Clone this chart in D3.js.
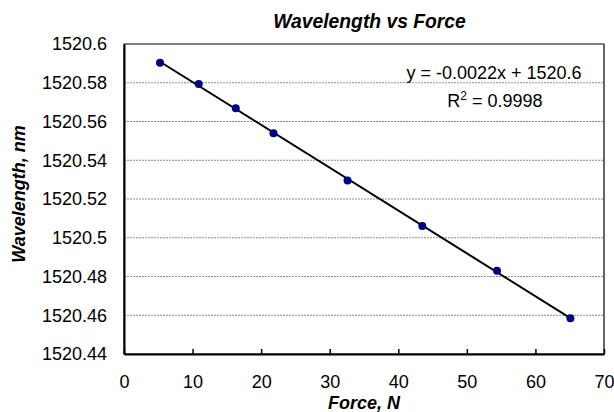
<!DOCTYPE html>
<html>
<head>
<meta charset="utf-8">
<script src="https://cdn.jsdelivr.net/npm/d3@7"></script>
<style>
  body { margin: 0; background: #fff; }
  text { font-family: 'Liberation Sans', Arial, sans-serif; fill: #000; }
</style>
</head>
<body>
<script>
// data
const force = [5.25, 10.9, 16.3, 21.8, 32.6, 43.5, 54.4, 65.1];
const wavelength = [1520.5903, 1520.5794, 1520.5668, 1520.5539, 1520.5295, 1520.5061, 1520.483, 1520.4584];
const xTicks = [0, 10, 20, 30, 40, 50, 60, 70];
const yTicks = [1520.44, 1520.46, 1520.48, 1520.5, 1520.52, 1520.54, 1520.56, 1520.58, 1520.6];
const yTickLabels = ['1520.44', '1520.46', '1520.48', '1520.5', '1520.52', '1520.54', '1520.56', '1520.58', '1520.6'];
const equationLines = ['y = -0.0022x + 1520.6', 'R', '2', ' = 0.9998'];

const W = 614;
const H = 412;
const margin = { top: 44, right: 10, bottom: 58, left: 124 };
const width = W - margin.left - margin.right;
const height = H - margin.top - margin.bottom;
const fontSize = '18px';

const data = force.map((f, i) => ({ x: f, y: wavelength[i] }));

const xScale = d3.scaleLinear().domain([0, 70]).range([0, width]);
const yScale = d3.scaleLinear().domain([1520.44, 1520.6]).range([height, 0]);

const svg = d3.select('body')
  .append('svg')
  .attr('width', W)
  .attr('height', H);

const g = svg.append('g')
  .attr('transform', `translate(${margin.left}, ${margin.top})`);

// gridlines
g.selectAll('.grid')
  .data(yTicks.slice(1, -1))
  .join('line')
  .attr('x1', 0)
  .attr('x2', width)
  .attr('y1', (d) => yScale(d))
  .attr('y2', (d) => yScale(d))
  .attr('stroke', '#8c8c8c')
  .attr('stroke-width', 1)
  .attr('stroke-dasharray', '2,1');

// plot frame
g.append('rect')
  .attr('width', width)
  .attr('height', height)
  .attr('fill', 'none')
  .attr('stroke', '#000')
  .attr('stroke-width', 1);
g.append('line')
  .attr('x1', width)
  .attr('x2', width)
  .attr('y1', 0)
  .attr('y2', height)
  .attr('stroke', '#666')
  .attr('stroke-width', 2);

const xAxis = d3.axisBottom(xScale)
  .tickValues(xTicks)
  .tickSizeInner(-5)
  .tickSizeOuter(0)
  .tickPadding(21);
const xg = g.append('g')
  .attr('transform', `translate(0, ${height})`)
  .call(xAxis);
xg.select('.domain').attr('stroke', '#000').attr('stroke-width', 2);
xg.selectAll('.tick line').attr('stroke', '#000').attr('stroke-width', 1.5);
xg.selectAll('.tick text')
  .style('font-size', fontSize)
  .style('font-family', "'Liberation Sans', Arial, sans-serif");

const yAxis = d3.axisLeft(yScale)
  .tickValues(yTicks)
  .tickFormat((d, i) => yTickLabels[i])
  .tickSize(0)
  .tickPadding(17);
const yg = g.append('g').call(yAxis);
yg.select('.domain').attr('stroke', '#000').attr('stroke-width', 2);
yg.selectAll('.tick text')
  .style('font-size', fontSize)
  .style('font-family', "'Liberation Sans', Arial, sans-serif");

// linear trendline from least squares fit
const mx = d3.mean(force);
const my = d3.mean(wavelength);
const slope = d3.sum(data, (d) => (d.x - mx) * (d.y - my)) / d3.sum(data, (d) => (d.x - mx) ** 2);
const intercept = my - slope * mx;
const xEnds = d3.extent(force);
g.append('line')
  .attr('x1', xScale(xEnds[0]))
  .attr('y1', yScale(intercept + slope * xEnds[0]))
  .attr('x2', xScale(xEnds[1]))
  .attr('y2', yScale(intercept + slope * xEnds[1]))
  .attr('stroke', '#000')
  .attr('stroke-width', 2);

g.selectAll('.pt')
  .data(data)
  .join('circle')
  .attr('cx', (d) => xScale(d.x))
  .attr('cy', (d) => yScale(d.y))
  .attr('r', 4)
  .attr('fill', '#000080');

// equation label
g.append('text')
  .attr('x', 494 - margin.left)
  .attr('y', 78.5 - margin.top)
  .attr('text-anchor', 'middle')
  .style('font-size', fontSize)
  .text(equationLines[0]);

const r2 = g.append('text')
  .attr('x', 495 - margin.left)
  .attr('y', 106.5 - margin.top)
  .attr('text-anchor', 'middle')
  .style('font-size', fontSize);
r2.append('tspan').text(equationLines[1]);
r2.append('tspan').attr('dy', -7).style('font-size', '12px').text(equationLines[2]);
r2.append('tspan').attr('dy', 7).text(equationLines[3]);

// titles
svg.append('text')
  .attr('x', 369.5)
  .attr('y', 28)
  .attr('text-anchor', 'middle')
  .style('font-size', '19.3px')
  .style('font-weight', 'bold')
  .style('font-style', 'italic')
  .text('Wavelength vs Force');

svg.append('text')
  .attr('x', margin.left + width / 2)
  .attr('y', 409)
  .attr('text-anchor', 'middle')
  .style('font-size', '18px')
  .style('font-weight', 'bold')
  .style('font-style', 'italic')
  .text('Force, N');

svg.append('text')
  .attr('transform', `translate(24.5, 194) rotate(-90)`)
  .attr('text-anchor', 'middle')
  .style('font-size', '18px')
  .style('font-weight', 'bold')
  .style('font-style', 'italic')
  .text('Wavelength, nm');
</script>
</body>
</html>
